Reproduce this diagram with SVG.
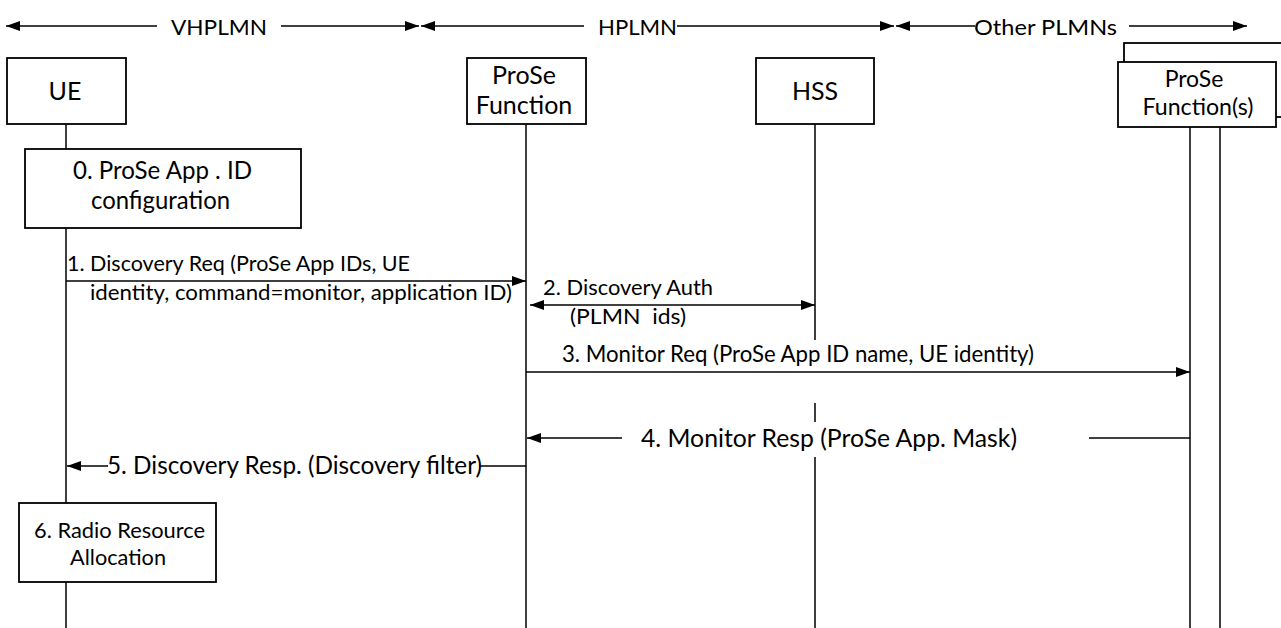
<svg xmlns="http://www.w3.org/2000/svg" width="1281" height="628" viewBox="0 0 1281 628">
<defs>
<style>
.t{font-family:Lato,Roboto,"Liberation Sans",sans-serif;fill:#000;white-space:pre}
.box{fill:#fff;stroke:#000;stroke-width:1.8}
.life{stroke:#000;stroke-width:1.5;fill:none}
.ln{stroke:#000;stroke-width:1.5;fill:none}
.ar{stroke:#000;stroke-width:1.5;fill:none;marker-end:url(#ah)}
.s20{font-size:21px}.s21{font-size:22px}.s22{font-size:23px}.s23{font-size:23px}.s24{font-size:25px}
</style>
<marker id="ah" viewBox="0 0 14 10" refX="14" refY="5" markerWidth="14" markerHeight="10" markerUnits="userSpaceOnUse" orient="auto-start-reverse">
<path d="M0,0 L14,5 L0,10 z" fill="#000"/>
</marker>
</defs>
<rect width="1281" height="628" fill="#fff"/>

<g id="lifelines">
<path class="life" d="M66,124V149M66,228V503M66,582V628"/>
<path class="life" d="M526,124V628"/>
<path class="life" d="M815,124V340M815,403V422M815,457V628"/>
<path class="life" d="M1190,127V628M1220,127V628"/>
</g>

<g id="domains">
<line class="ar" x1="157" y1="26" x2="6" y2="26"/>
<text class="t s21" x="171" y="35" textLength="96" lengthAdjust="spacingAndGlyphs">VHPLMN</text>
<line class="ar" x1="281" y1="26" x2="419" y2="26"/>
<line class="ar" x1="584" y1="26" x2="421" y2="26"/>
<text class="t s21" x="598" y="35" textLength="79" lengthAdjust="spacingAndGlyphs">HPLMN</text>
<line class="ar" x1="677" y1="26" x2="894" y2="26"/>
<line class="ar" x1="975" y1="26" x2="896" y2="26"/>
<text class="t s21" x="974" y="35" textLength="143" lengthAdjust="spacingAndGlyphs">Other PLMNs</text>
<line class="ar" x1="1129" y1="26" x2="1247" y2="26"/>
</g>

<g id="ue">
<rect class="box" x="7" y="58" width="119" height="66"/>
<text class="t s24" x="65" y="100" text-anchor="middle">UE</text>
</g>
<g id="prose-function">
<rect class="box" x="467" y="58" width="119" height="66"/>
<text class="t s24" x="524" y="84" text-anchor="middle">ProSe</text>
<text class="t s24" x="524" y="114" text-anchor="middle">Function</text>
</g>
<g id="hss">
<rect class="box" x="756" y="58" width="118" height="66"/>
<text class="t s24" x="815" y="100" text-anchor="middle">HSS</text>
</g>
<g id="prose-functions-other">
<rect class="box" x="1124" y="43" width="200" height="74"/>
<rect class="box" x="1118" y="62" width="158" height="65"/>
<text class="t s23" x="1194" y="87" text-anchor="middle">ProSe</text>
<text class="t s23" x="1198" y="115" text-anchor="middle" textLength="111" lengthAdjust="spacingAndGlyphs">Function(s)</text>
</g>

<g id="step0">
<rect class="box" x="25" y="149" width="276" height="79"/>
<text class="t s24" x="73" y="179" textLength="179" lengthAdjust="spacingAndGlyphs">0. ProSe App . ID</text>
<text class="t s24" x="91" y="209" textLength="139" lengthAdjust="spacingAndGlyphs">configuration</text>
</g>
<g id="step6">
<rect class="box" x="19" y="503" width="197" height="79"/>
<text class="t s20" x="34" y="538" textLength="171" lengthAdjust="spacingAndGlyphs">6. Radio Resource</text>
<text class="t s20" x="70" y="565" textLength="96" lengthAdjust="spacingAndGlyphs">Allocation</text>
</g>

<g id="connectors">
<line class="ar" x1="66" y1="281" x2="526" y2="281"/>
<line class="ar" x1="530" y1="305" x2="815" y2="305" style="marker-start:url(#ah)"/>
<line class="ar" x1="526" y1="372" x2="1190" y2="372"/>
<line class="ln" x1="1190" y1="438" x2="1089" y2="438"/>
<line class="ar" x1="622" y1="438" x2="527" y2="438"/>
<line class="ln" x1="526" y1="466" x2="479" y2="466"/>
<line class="ar" x1="108" y1="466" x2="67" y2="466"/>
</g>

<g id="labels">
<text class="t s21" x="67" y="271" textLength="343" lengthAdjust="spacingAndGlyphs">1. Discovery Req (ProSe App IDs, UE</text>
<text class="t s21" x="90" y="300" textLength="422" lengthAdjust="spacingAndGlyphs">identity, command=monitor, application ID)</text>
<text class="t s21" x="543" y="295" textLength="170" lengthAdjust="spacingAndGlyphs">2. Discovery Auth</text>
<text class="t s21" x="570" y="324" textLength="116" lengthAdjust="spacingAndGlyphs">(PLMN  ids)</text>
<text class="t s22" x="562" y="362" textLength="472" lengthAdjust="spacingAndGlyphs">3. Monitor Req (ProSe App ID name, UE identity)</text>
<text class="t s24" x="641" y="447" textLength="376" lengthAdjust="spacingAndGlyphs">4. Monitor Resp (ProSe App. Mask)</text>
<text class="t s24" x="107" y="474" textLength="375" lengthAdjust="spacingAndGlyphs">5. Discovery Resp. (Discovery filter)</text>
</g>
</svg>
